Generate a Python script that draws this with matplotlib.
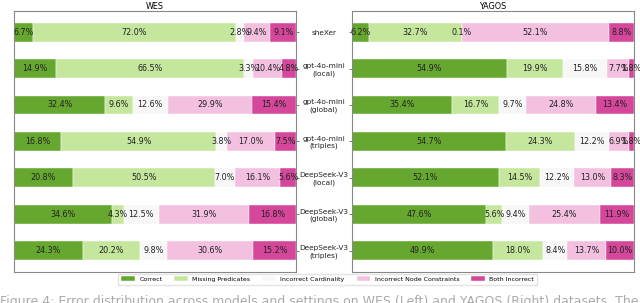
import numpy as np
import matplotlib
matplotlib.use('Agg')
import matplotlib.pyplot as plt

models = ['sheXer', 'gpt-4o-mini\n(local)', 'gpt-4o-mini\n(global)', 'gpt-4o-mini\n(triples)',
          'DeepSeek-V3\n(local)', 'DeepSeek-V3\n(global)', 'DeepSeek-V3\n(triples)']
categories = ['Correct', 'Missing Predicates', 'Incorrect Cardinality',
              'Incorrect Node Constraints', 'Both Incorrect']
colors = ['#66a82f', '#c5e69d', '#f7f7f7', '#f3c0df', '#d4479b']

# rows = models, cols = categories (%)
wes = [[6.7, 72.0, 2.8, 9.4, 9.1],
       [14.9, 66.5, 3.3, 10.4, 4.8],
       [32.4, 9.6, 12.6, 29.9, 15.4],
       [16.8, 54.9, 3.8, 17.0, 7.5],
       [20.8, 50.5, 7.0, 16.1, 5.6],
       [34.6, 4.3, 12.5, 31.9, 16.8],
       [24.3, 20.2, 9.8, 30.6, 15.2]]
yagos = [[6.2, 32.7, 0.1, 52.1, 8.8],
         [54.9, 19.9, 15.8, 7.7, 1.8],
         [35.4, 16.7, 9.7, 24.8, 13.4],
         [54.7, 24.3, 12.2, 6.9, 1.8],
         [52.1, 14.5, 12.2, 13.0, 8.3],
         [47.6, 5.6, 9.4, 25.4, 11.9],
         [49.9, 18.0, 8.4, 13.7, 10.0]]

fig = plt.figure(figsize=(6.4, 3.03), dpi=100)
ax1 = fig.add_axes([0.022, 0.1023, 0.4406, 0.862])
ax2 = fig.add_axes([0.55, 0.1023, 0.4406, 0.862])


def draw(ax, data, title):
    data = np.array(data)
    y = np.arange(len(models))
    left = np.zeros(len(models))
    for j, cat in enumerate(categories):
        vals = data[:, j]
        ax.barh(y, vals, left=left, height=0.52, color=colors[j],
                edgecolor='white', linewidth=0.3, label=cat)
        for k, v in enumerate(vals):
            ax.text(left[k] + v / 2, y[k], '%.1f%%' % v, ha='center', va='center',
                    fontsize=5.8, color='#222222')
        left += vals
    ax.set_xlim(0, 100)
    ax.invert_yaxis()
    ax.set_xticks([])
    ax.set_title(title, fontsize=5.8, pad=1.5)
    for s in ax.spines.values():
        s.set_color('#888888')
        s.set_linewidth(0.8)
    ax.tick_params(axis='y', length=2, width=0.6, color='#666666', labelsize=5.3)


draw(ax1, wes, 'WES')
draw(ax2, yagos, 'YAGOS')

ax1.set_yticks(np.arange(len(models)))
ax1.yaxis.tick_right()
ax1.set_yticklabels([])

ax2.set_yticks(np.arange(len(models)))
ax2.set_yticklabels(models, ha='center', color='#222222')
ax2.tick_params(axis='y', pad=18.2)

handles, labels = ax1.get_legend_handles_labels()
fig.legend(handles, labels, loc='center', bbox_to_anchor=(0.512, 0.079), ncol=5,
           fontsize=4.5, frameon=True, handlelength=2.2, handleheight=0.7,
           handletextpad=0.7, columnspacing=1.9, borderpad=0.45,
           fancybox=False, edgecolor='#dddddd')

fig.text(0.0, 0.026, 'Figure 4: Error distribution across models and settings on WES (Left) and YAGOS (Right) datasets. The',
         fontsize=9.0, color='#aaaaaa', va='top', ha='left')

fig.savefig('out.png', dpi=100)
